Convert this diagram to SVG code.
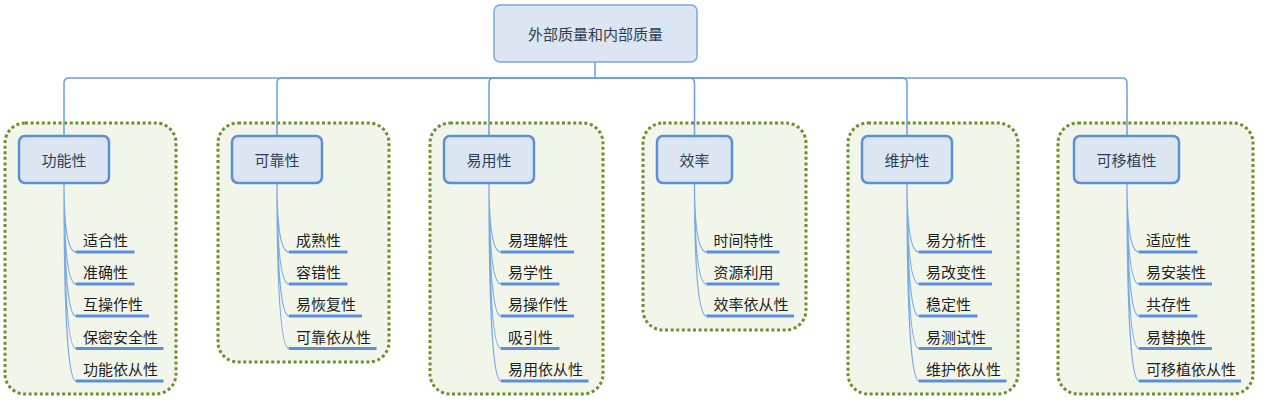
<svg xmlns="http://www.w3.org/2000/svg" width="1268" height="405" viewBox="0 0 1268 405">
<style>
.grp{fill:#f2f6ea;stroke:#6f8e2e;stroke-width:3;stroke-dasharray:3 2.6}
.root{fill:#dce6f2;stroke:#7aa6e0;stroke-width:1.5}
.l1{fill:#dce6f2;stroke:#5b8fd6;stroke-width:2.5}
.t1{font-family:"Noto Sans CJK SC","Noto Sans",sans-serif;font-size:15px;fill:#2d3e52;text-anchor:middle;dominant-baseline:central}
.t2{font-family:"Noto Sans CJK SC","Noto Sans",sans-serif;font-size:15px;fill:#1e1e1e}
.ul{stroke:#5b8fd6;stroke-width:3;fill:none}
.c1{stroke:#6b9fe0;stroke-width:1.5;fill:none}
.c2{stroke:#7aaae6;stroke-width:1.3;fill:none}
</style>
<g id="groups">
<rect class="grp" x="5" y="123" width="171" height="271" rx="20"/>
<rect class="grp" x="218" y="123" width="171" height="239" rx="20"/>
<rect class="grp" x="430" y="123" width="173" height="271" rx="20"/>
<rect class="grp" x="643" y="123" width="163" height="207" rx="20"/>
<rect class="grp" x="848" y="123" width="170" height="271" rx="20"/>
<rect class="grp" x="1058" y="123" width="195" height="271" rx="20"/>
</g>
<g id="connectors">
<path class="c1" d="M595 62V78H69Q64 78 64 83V136"/>
<path class="c1" d="M595 78H282Q277 78 277 83V136"/>
<path class="c1" d="M595 78H494Q489 78 489 83V136"/>
<path class="c1" d="M595 78H689.5Q694.5 78 694.5 83V136"/>
<path class="c1" d="M595 78H902Q907 78 907 83V136"/>
<path class="c1" d="M595 78H1122Q1127 78 1127 83V136"/>
<path class="c2" d="M64 183Q64 252 76 252M64 183Q64 284 76 284M64 183Q64 316 76 316M64 183Q64 348.5 76 348.5M64 183Q64 381 76 381"/>
<path class="c2" d="M277 183Q277 252 289 252M277 183Q277 284 289 284M277 183Q277 316 289 316M277 183Q277 348.5 289 348.5"/>
<path class="c2" d="M489 183Q489 252 501 252M489 183Q489 284 501 284M489 183Q489 316 501 316M489 183Q489 348.5 501 348.5M489 183Q489 381 501 381"/>
<path class="c2" d="M694.5 183Q694.5 252 706.5 252M694.5 183Q694.5 284 706.5 284M694.5 183Q694.5 316 706.5 316"/>
<path class="c2" d="M907 183Q907 252 919 252M907 183Q907 284 919 284M907 183Q907 316 919 316M907 183Q907 348.5 919 348.5M907 183Q907 381 919 381"/>
<path class="c2" d="M1127 183Q1127 252 1139 252M1127 183Q1127 284 1139 284M1127 183Q1127 316 1139 316M1127 183Q1127 348.5 1139 348.5M1127 183Q1127 381 1139 381"/>
</g>
<g id="root">
<rect class="root" x="494" y="5" width="203" height="57" rx="6"/>
<text class="t1" x="595.5" y="33.5">外部质量和内部质量</text>
</g>
<g id="n1">
<rect class="l1" x="19" y="136" width="90" height="47" rx="6"/>
<text class="t1" x="64" y="159.5">功能性</text>
</g>
<g id="n2">
<rect class="l1" x="232" y="136" width="90" height="47" rx="6"/>
<text class="t1" x="277" y="159.5">可靠性</text>
</g>
<g id="n3">
<rect class="l1" x="444" y="136" width="90" height="47" rx="6"/>
<text class="t1" x="489" y="159.5">易用性</text>
</g>
<g id="n4">
<rect class="l1" x="657" y="136" width="75" height="47" rx="6"/>
<text class="t1" x="694.5" y="159.5">效率</text>
</g>
<g id="n5">
<rect class="l1" x="862" y="136" width="90" height="47" rx="6"/>
<text class="t1" x="907" y="159.5">维护性</text>
</g>
<g id="n6">
<rect class="l1" x="1074" y="136" width="105" height="47" rx="6"/>
<text class="t1" x="1126.5" y="159.5">可移植性</text>
</g>
<g id="n1-children">
<g id="n1-1"><path class="ul" d="M76 252h58.5"/><text class="t2" x="83" y="246">适合性</text></g>
<g id="n1-2"><path class="ul" d="M76 284h58.5"/><text class="t2" x="83" y="278">准确性</text></g>
<g id="n1-3"><path class="ul" d="M76 316h73"/><text class="t2" x="83" y="310">互操作性</text></g>
<g id="n1-4"><path class="ul" d="M76 348.5h87.5"/><text class="t2" x="83" y="342.5">保密安全性</text></g>
<g id="n1-5"><path class="ul" d="M76 381h87.5"/><text class="t2" x="83" y="375">功能依从性</text></g>
</g>
<g id="n2-children">
<g id="n2-1"><path class="ul" d="M289 252h58.5"/><text class="t2" x="296" y="246">成熟性</text></g>
<g id="n2-2"><path class="ul" d="M289 284h58.5"/><text class="t2" x="296" y="278">容错性</text></g>
<g id="n2-3"><path class="ul" d="M289 316h73"/><text class="t2" x="296" y="310">易恢复性</text></g>
<g id="n2-4"><path class="ul" d="M289 348.5h87.5"/><text class="t2" x="296" y="342.5">可靠依从性</text></g>
</g>
<g id="n3-children">
<g id="n3-1"><path class="ul" d="M501 252h73"/><text class="t2" x="508" y="246">易理解性</text></g>
<g id="n3-2"><path class="ul" d="M501 284h58.5"/><text class="t2" x="508" y="278">易学性</text></g>
<g id="n3-3"><path class="ul" d="M501 316h73"/><text class="t2" x="508" y="310">易操作性</text></g>
<g id="n3-4"><path class="ul" d="M501 348.5h58.5"/><text class="t2" x="508" y="342.5">吸引性</text></g>
<g id="n3-5"><path class="ul" d="M501 381h87.5"/><text class="t2" x="508" y="375">易用依从性</text></g>
</g>
<g id="n4-children">
<g id="n4-1"><path class="ul" d="M706.5 252h73"/><text class="t2" x="713.5" y="246">时间特性</text></g>
<g id="n4-2"><path class="ul" d="M706.5 284h73"/><text class="t2" x="713.5" y="278">资源利用</text></g>
<g id="n4-3"><path class="ul" d="M706.5 316h87.5"/><text class="t2" x="713.5" y="310">效率依从性</text></g>
</g>
<g id="n5-children">
<g id="n5-1"><path class="ul" d="M919 252h73"/><text class="t2" x="926" y="246">易分析性</text></g>
<g id="n5-2"><path class="ul" d="M919 284h73"/><text class="t2" x="926" y="278">易改变性</text></g>
<g id="n5-3"><path class="ul" d="M919 316h58.5"/><text class="t2" x="926" y="310">稳定性</text></g>
<g id="n5-4"><path class="ul" d="M919 348.5h73"/><text class="t2" x="926" y="342.5">易测试性</text></g>
<g id="n5-5"><path class="ul" d="M919 381h87.5"/><text class="t2" x="926" y="375">维护依从性</text></g>
</g>
<g id="n6-children">
<g id="n6-1"><path class="ul" d="M1139 252h58.5"/><text class="t2" x="1146" y="246">适应性</text></g>
<g id="n6-2"><path class="ul" d="M1139 284h73"/><text class="t2" x="1146" y="278">易安装性</text></g>
<g id="n6-3"><path class="ul" d="M1139 316h58.5"/><text class="t2" x="1146" y="310">共存性</text></g>
<g id="n6-4"><path class="ul" d="M1139 348.5h73"/><text class="t2" x="1146" y="342.5">易替换性</text></g>
<g id="n6-5"><path class="ul" d="M1139 381h102"/><text class="t2" x="1146" y="375">可移植依从性</text></g>
</g>
</svg>
